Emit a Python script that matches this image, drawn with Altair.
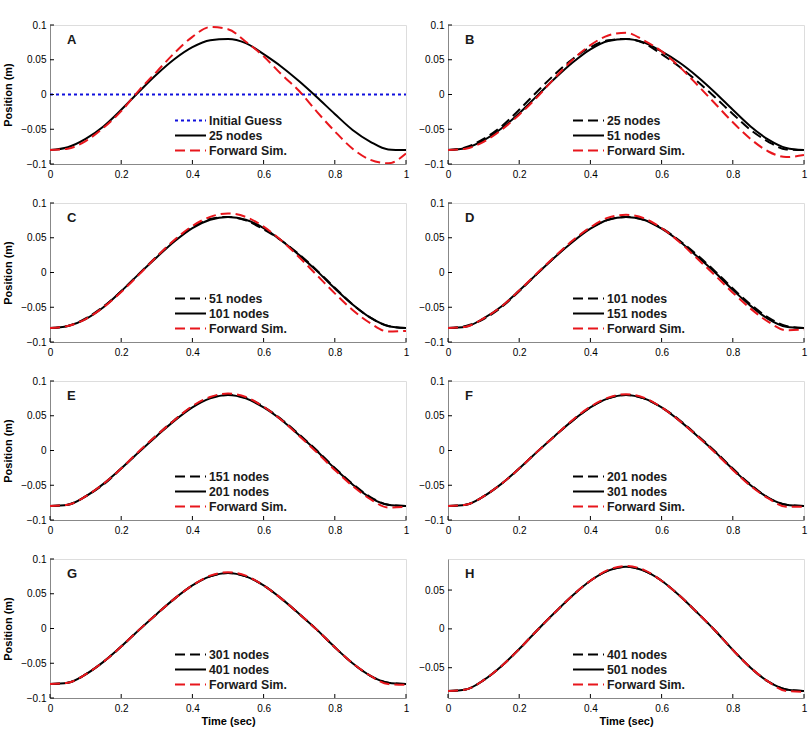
import altair as alt
import pandas as pd

# ---- data -------------------------------------------------------------
TIME = [0.00, 0.05, 0.10, 0.15, 0.20, 0.25, 0.30, 0.35, 0.40, 0.45, 0.50,
        0.55, 0.60, 0.65, 0.70, 0.75, 0.80, 0.85, 0.90, 0.95, 1.00]

GUESS = [0.0] * len(TIME)

N25 = [-0.080, -0.076, -0.064, -0.046, -0.022, 0.004, 0.029, 0.051, 0.068, 0.078, 0.080,
       0.074, 0.058, 0.040, 0.019, -0.004, -0.028, -0.051, -0.068, -0.079, -0.080]
N51 = [-0.080, -0.077, -0.066, -0.049, -0.027, -0.002, 0.023, 0.046, 0.065, 0.077, 0.080,
       0.075, 0.062, 0.046, 0.026, 0.003, -0.022, -0.046, -0.065, -0.077, -0.080]
N101 = [-0.080, -0.077, -0.067, -0.050, -0.027, -0.002, 0.022, 0.045, 0.064, 0.076, 0.080,
        0.076, 0.064, 0.046, 0.025, 0.002, -0.023, -0.046, -0.065, -0.077, -0.080]
N151 = [-0.080, -0.078, -0.066, -0.049, -0.026, -0.002, 0.022, 0.044, 0.063, 0.076, 0.080,
        0.076, 0.063, 0.045, 0.023, 0.000, -0.025, -0.048, -0.067, -0.078, -0.080]
N201 = [-0.080, -0.078, -0.066, -0.048, -0.026, -0.002, 0.021, 0.043, 0.062, 0.075, 0.080,
        0.075, 0.062, 0.044, 0.022, -0.001, -0.026, -0.049, -0.068, -0.078, -0.080]
N301 = [-0.080, -0.078, -0.066, -0.048, -0.026, -0.002, 0.021, 0.043, 0.062, 0.075, 0.080,
        0.075, 0.062, 0.043, 0.021, -0.002, -0.027, -0.050, -0.068, -0.078, -0.080]
N401 = [-0.080, -0.078, -0.066, -0.048, -0.026, -0.002, 0.021, 0.043, 0.062, 0.075, 0.080,
        0.075, 0.062, 0.043, 0.021, -0.002, -0.027, -0.050, -0.068, -0.078, -0.080]
N501 = [-0.080, -0.078, -0.066, -0.048, -0.026, -0.002, 0.021, 0.043, 0.062, 0.075, 0.080,
        0.075, 0.062, 0.043, 0.021, -0.002, -0.027, -0.050, -0.068, -0.078, -0.080]

FWD_A = [-0.080, -0.078, -0.067, -0.048, -0.024, 0.006, 0.033, 0.060, 0.083, 0.097, 0.094,
         0.076, 0.055, 0.029, 0.005, -0.025, -0.053, -0.078, -0.094, -0.099, -0.085]
FWD_B = [-0.080, -0.078, -0.068, -0.051, -0.029, -0.004, 0.024, 0.050, 0.071, 0.085, 0.089,
         0.078, 0.062, 0.040, 0.014, -0.013, -0.040, -0.064, -0.082, -0.090, -0.087]
FWD_C = [-0.080, -0.077, -0.067, -0.050, -0.028, -0.003, 0.023, 0.047, 0.067, 0.080, 0.085,
         0.080, 0.066, 0.046, 0.022, -0.004, -0.030, -0.054, -0.073, -0.085, -0.084]
FWD_D = [-0.080, -0.078, -0.066, -0.049, -0.026, -0.001, 0.023, 0.046, 0.065, 0.079, 0.083,
         0.078, 0.064, 0.044, 0.020, -0.004, -0.029, -0.052, -0.071, -0.083, -0.082]
FWD_E = [-0.080, -0.078, -0.066, -0.048, -0.026, -0.001, 0.022, 0.044, 0.064, 0.077, 0.082,
         0.077, 0.063, 0.044, 0.021, -0.003, -0.028, -0.051, -0.070, -0.082, -0.081]
FWD_F = [-0.080, -0.078, -0.066, -0.048, -0.026, -0.002, 0.021, 0.044, 0.063, 0.076, 0.081,
         0.076, 0.062, 0.043, 0.021, -0.003, -0.028, -0.051, -0.069, -0.081, -0.081]
FWD_G = [-0.080, -0.078, -0.066, -0.048, -0.026, -0.002, 0.021, 0.043, 0.062, 0.076, 0.081,
         0.076, 0.062, 0.043, 0.021, -0.002, -0.027, -0.050, -0.068, -0.080, -0.081]
FWD_H = [-0.080, -0.078, -0.066, -0.048, -0.026, -0.002, 0.021, 0.043, 0.062, 0.076, 0.081,
         0.076, 0.062, 0.043, 0.021, -0.002, -0.027, -0.050, -0.068, -0.080, -0.081]

PANEL_LETTERS = ["A", "B", "C", "D", "E", "F", "G", "H"]
COARSE = [None, N25, N51, N101, N151, N201, N301, N401]
FINE = [N25, N51, N101, N151, N201, N301, N401, N501]
FORWARD = [FWD_A, FWD_B, FWD_C, FWD_D, FWD_E, FWD_F, FWD_G, FWD_H]
LEGEND_NAMES = [
    ["Initial Guess", "25 nodes", "Forward Sim."],
    ["25 nodes", "51 nodes", "Forward Sim."],
    ["51 nodes", "101 nodes", "Forward Sim."],
    ["101 nodes", "151 nodes", "Forward Sim."],
    ["151 nodes", "201 nodes", "Forward Sim."],
    ["201 nodes", "301 nodes", "Forward Sim."],
    ["301 nodes", "401 nodes", "Forward Sim."],
    ["401 nodes", "501 nodes", "Forward Sim."],
]

X_TICKS = [0, 0.2, 0.4, 0.6, 0.8, 1]
Y_TICKS = [-0.1, -0.05, 0, 0.05, 0.1]
Y_TICKS_LAST = [-0.05, 0, 0.05]
Y_DOMAIN = [-0.1, 0.1]
Y_DOMAIN_LAST = [-0.089, 0.09]

# ---- styling ----------------------------------------------------------
W, H = 356, 139
FONT = "Liberation Sans"
FS = 12.3
RED = "#e8161c"
BLUE = "#1010dd"
BLACK = "#000000"
TXT = "#1a1a1a"
DASH = [10, 5]
DOT = [3, 3]
LINE_W = 2


def series_layer(values, color, dash, x_enc, y_enc):
    df = pd.DataFrame({"t": TIME, "pos": values})
    mark = dict(color=color, strokeWidth=LINE_W, interpolate="monotone", clip=True)
    if dash:
        mark["strokeDash"] = dash
    return alt.Chart(df).mark_line(**mark).encode(x=x_enc, y=y_enc)


def legend_entry(name, row, color, dash):
    ypx = 95.5 + 15 * row
    df = pd.DataFrame({"name": [name]})
    rule_kw = dict(color=color, strokeWidth=LINE_W)
    if dash:
        rule_kw["strokeDash"] = dash
    line = alt.Chart(df).mark_rule(**rule_kw).encode(
        x=alt.value(125), x2=alt.value(156), y=alt.value(ypx)
    )
    label = alt.Chart(df).mark_text(
        align="left", baseline="middle", font=FONT, fontSize=FS,
        fontWeight="bold", color=TXT
    ).encode(text="name:N", x=alt.value(159), y=alt.value(ypx))
    return [line, label]


def panel(i):
    last_row = i >= 6
    left_col = i % 2 == 0
    y_dom = Y_DOMAIN_LAST if i == 7 else Y_DOMAIN
    y_ticks = Y_TICKS_LAST if i == 7 else Y_TICKS

    x_axis = alt.Axis(
        values=X_TICKS, format="~g", ticks=False, grid=False, labelFlush=False,
        title="Time (sec)" if last_row else "", labelPadding=5, titlePadding=2,
    )
    y_axis = alt.Axis(
        values=y_ticks, format="~g", ticks=False, grid=False, labelFlush=False,
        title="Position (m)" if left_col else "", labelPadding=4, titlePadding=7,
    )
    x_scale = alt.Scale(domain=[0, 1], nice=False, zero=False)
    y_scale = alt.Scale(domain=y_dom, nice=False, zero=False)
    x_enc = alt.X("t:Q", scale=x_scale, axis=x_axis)
    y_enc = alt.Y("pos:Q", scale=y_scale, axis=y_axis)

    layers = []
    names = LEGEND_NAMES[i]
    if COARSE[i] is None:
        layers.append(series_layer(GUESS, BLUE, DOT, x_enc, y_enc))
        layers.append(series_layer(FINE[i], BLACK, None, x_enc, y_enc))
        layers.append(series_layer(FORWARD[i], RED, DASH, x_enc, y_enc))
        legend_styles = [(BLUE, DOT), (BLACK, None), (RED, DASH)]
    else:
        layers.append(series_layer(COARSE[i], BLACK, DASH, x_enc, y_enc))
        layers.append(series_layer(FINE[i], BLACK, None, x_enc, y_enc))
        layers.append(series_layer(FORWARD[i], RED, DASH, x_enc, y_enc))
        legend_styles = [(BLACK, DASH), (BLACK, None), (RED, DASH)]

    # inward tick marks along both axes
    xt = pd.DataFrame({"t": X_TICKS})
    layers.append(
        alt.Chart(xt).mark_rule(color=BLACK, strokeWidth=1).encode(
            x=x_enc, y=alt.value(H), y2=alt.value(H - 4),
        )
    )
    yt = pd.DataFrame({"pos": y_ticks})
    layers.append(
        alt.Chart(yt).mark_rule(color=BLACK, strokeWidth=1).encode(
            y=y_enc, x=alt.value(0), x2=alt.value(4),
        )
    )

    for row, (name, (color, dash)) in enumerate(zip(names, legend_styles)):
        layers.extend(legend_entry(name, row, color, dash))

    letter = alt.Chart(pd.DataFrame({"panel": [PANEL_LETTERS[i]]})).mark_text(
        align="left", baseline="middle", font=FONT, fontSize=13,
        fontWeight="bold", color=TXT
    ).encode(text="panel:N", x=alt.value(17), y=alt.value(15))
    layers.append(letter)

    return alt.layer(*layers).properties(width=W, height=H)


rows = [alt.hconcat(panel(2 * r), panel(2 * r + 1), spacing=8) for r in range(4)]
chart = alt.vconcat(*rows, spacing=17).properties(
    padding={"left": 2, "top": 19, "right": 0, "bottom": 0}
).configure_view(strokeWidth=0).configure_axis(
    domainColor=BLACK, domainWidth=1,
    labelFont=FONT, labelFontSize=FS, labelFontWeight="bold", labelColor=TXT,
    titleFont=FONT, titleFontSize=13, titleFontWeight="bold", titleColor=TXT,
).configure(background="white")

chart.save("out.html", embed_options={"renderer": "svg", "actions": False})
